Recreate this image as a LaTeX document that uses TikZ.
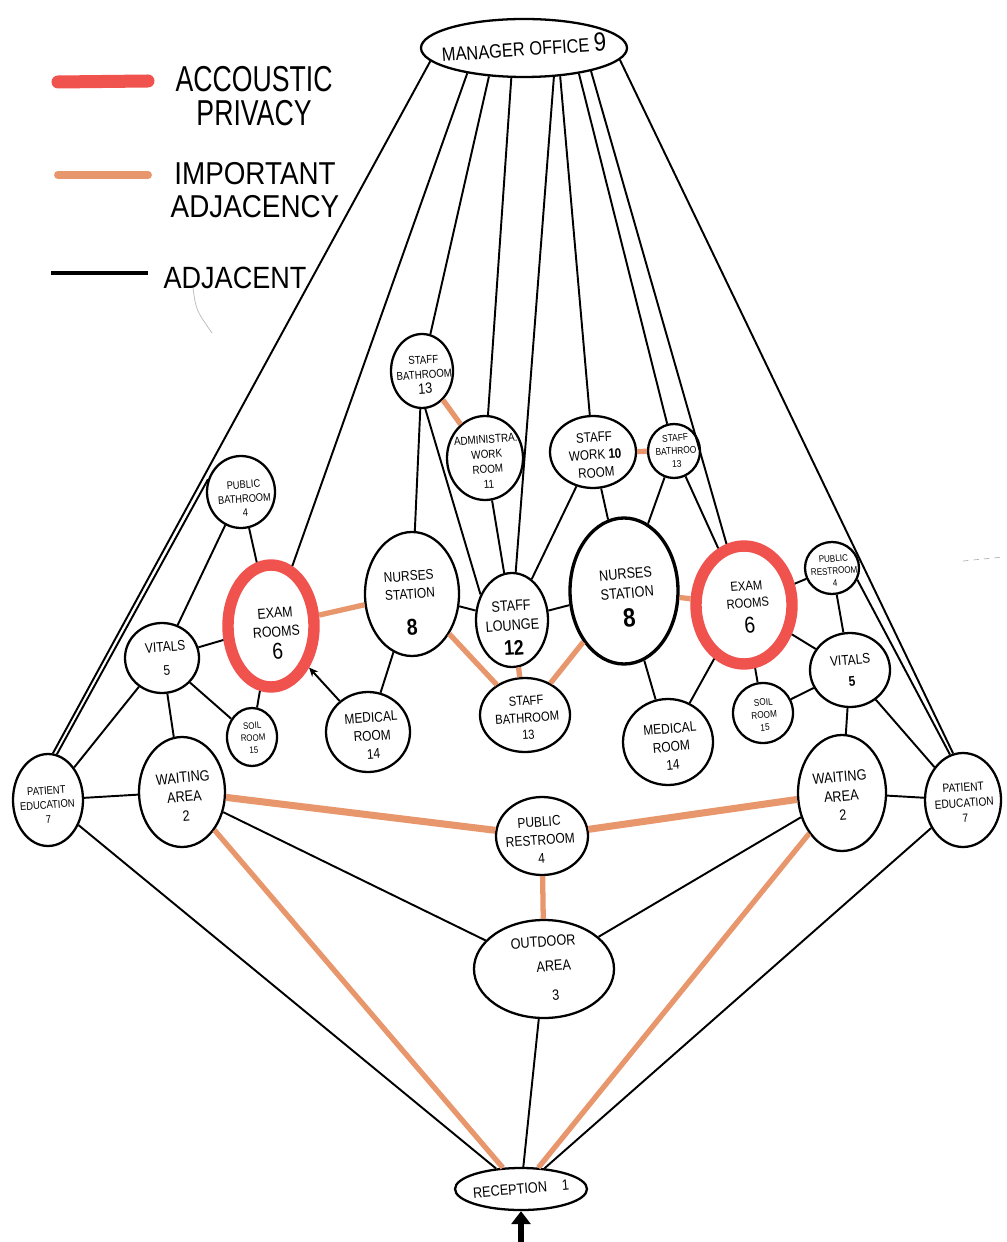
\documentclass[tikz,border=0pt]{standalone}
\usepackage{fontspec}
\setmainfont{Liberation Sans}
\newfontfamily\hand[FakeStretch=0.85]{Liberation Sans}
\newfontfamily\legA[FakeStretch=0.74]{Liberation Sans}
\newfontfamily\legB[FakeStretch=0.88]{Liberation Sans}
\newcommand\hf[1]{\hand\fontsize{#1}{\dimexpr #1pt*13/10\relax}\selectfont}
\usetikzlibrary{shapes.geometric,arrows.meta}
\definecolor{accred}{RGB}{240,82,78}
\definecolor{imporange}{RGB}{232,150,108}
\begin{document}
\begin{tikzpicture}[x=0.2mm,y=-0.2mm,
  room/.style 2 args={draw, ellipse, line width=1.3pt, inner sep=0pt,
     minimum width=#1*0.4mm, minimum height=#2*0.4mm},
  priv/.style 2 args={room={#1}{#2}, draw=accred, line width=6.5pt},
  lbl/.style={align=center, inner sep=0pt},
  txtsize/.style={font=\hf{#1}},
  adj/.style={line width=1.1pt, black},
  imp/.style={line width=3pt, imporange},
  impw/.style={line width=4pt, imporange},
]
\useasboundingbox[fill=white] (0,0) rectangle (1006,1242);

% ---------- legend ----------
\coordinate (lr1) at (58,82);  \coordinate (lr2) at (148,81);
\coordinate (lo1) at (58,175); \coordinate (lo2) at (148,175);
\coordinate (lb1) at (51,273); \coordinate (lb2) at (148,273);
\draw[accred, line width=7.4pt, line cap=round] (lr1) -- (lr2);
\draw[imporange, line width=4.5pt, line cap=round] (lo1) -- (lo2);
\draw[black, line width=2pt] (lb1) -- (lb2);
\node[lbl, font={\legA\fontsize{20.5}{19}\selectfont}] (legA) at (254,96) {ACCOUSTIC\\PRIVACY};
\node[lbl, font={\legB\fontsize{18}{19}\selectfont}] (legB) at (255,190) {IMPORTANT\\ADJACENCY};
\node[lbl, font={\legB\fontsize{17.5}{18}\selectfont}] (legC) at (235,278) {ADJACENT};
% stray marks
\coordinate (g1) at (193,288); \coordinate (g2) at (212,333);
\draw[gray!55, line width=0.4pt] (g1) .. controls (196,310) .. (g2);
\coordinate (d1) at (963,561); \coordinate (d2) at (1003,557);
\draw[gray!60, line width=0.4pt, dashed] (d1) -- (d2);

% ---------- rooms ----------
\node[room={103}{29}] (mgr) at (524,48) {};
\node[room={31}{37}] (sbL) at (422,371) {};
\node[room={38}{42}] (admin) at (485,458) {};
\node[room={43}{36}] (swr) at (593,452) {};
\node[room={26}{27}] (sbR) at (674,451) {};
\node[room={34}{36}] (pbL) at (241,492) {};
\node[priv={43}{61}] (examL) at (271,626) {};
\node[room={47}{62}] (nsL) at (412,594) {};
\node[room={36}{47}] (lounge) at (512,620) {};
\node[room={54}{73}, line width=1.9pt] (nsR) at (624,591) {};
\node[priv={48}{59}] (examR) at (744,605) {};
\node[room={27}{26}] (prR) at (832,568) {};
\node[room={37}{35}] (vitL) at (162,658) {};
\node[room={25}{29}] (soilL) at (252,737) {};
\node[room={42}{40}] (medL) at (368,732) {};
\node[room={45}{37}] (sbC) at (525,715) {};
\node[room={45}{43}] (medR) at (668,742) {};
\node[room={30}{30}] (soilR) at (763,713) {};
\node[room={40}{37}] (vitR) at (850,670) {};
\node[room={35}{46}] (pedL) at (48,800) {};
\node[room={43}{55}] (waitL) at (182,792) {};
\node[room={46}{39}] (prC) at (542,836) {};
\node[room={44}{58}] (waitR) at (842,793) {};
\node[room={38}{47}] (pedR) at (963,800) {};
\node[room={70}{49}] (outdoor) at (544,969) {};
\node[room={66}{21}] (rec) at (521,1189) {};

% ---------- labels ----------
\node[lbl, rotate=4, txtsize=11] (tmgr) at (524,47) {MANAGER OFFICE {\fontsize{15}{15}\selectfont 9}};
\node[lbl, rotate=4, txtsize=6.5, shift={(2,4)}] (tsbL) at (sbL) {STAFF\\BATHROOM\\{\fontsize{8.5}{8.5}\selectfont 13}};
\node[lbl, rotate=4, txtsize=6.6, shift={(2,4)}] (tadmin) at (admin) {ADMINISTRA.\\WORK\\ROOM\\11};
\node[lbl, rotate=4, txtsize=7.8, shift={(2,3)}] (tswr) at (swr) {STAFF\\WORK \textbf{10}\\ROOM};
\node[lbl, rotate=4, txtsize=5.6, shift={(2,0)}] (tsbR) at (sbR) {STAFF\\BATHROO\\13};
\node[lbl, rotate=4, txtsize=6.2, shift={(3,7)}] (tpbL) at (pbL) {PUBLIC\\BATHROOM\\4};
\node[lbl, rotate=4, txtsize=8.3, shift={(5,8)}] (texamL) at (examL) {EXAM\\ROOMS\\[2pt]{\fontsize{13}{13}\selectfont 6}};
\node[lbl, rotate=4, txtsize=8, shift={(-2,9)}] (tnsL) at (nsL) {NURSES\\STATION\\[10pt]{\fontsize{13}{13}\selectfont\bfseries 8}};
\node[lbl, rotate=4, txtsize=8.5, shift={(0,8)}] (tlounge) at (lounge) {STAFF\\LOUNGE\\[3pt]{\fontsize{12}{12}\selectfont\bfseries 12}};
\node[lbl, rotate=5, txtsize=8.5, shift={(3,7)}] (tnsR) at (nsR) {NURSES\\STATION\\[5pt]{\fontsize{15}{15}\selectfont\bfseries 8}};
\node[lbl, rotate=5, txtsize=7.5, shift={(4,3)}] (texamR) at (examR) {EXAM\\ROOMS\\[5pt]{\fontsize{13}{13}\selectfont 6}};
\node[lbl, rotate=4, txtsize=5.4, shift={(2,3)}] (tprR) at (prR) {PUBLIC\\RESTROOM\\4};
\node[lbl, rotate=4, txtsize=8, shift={(4,1)}] (tvitL) at (vitL) {VITALS\\[3pt]5};
\node[lbl, rotate=5, txtsize=8, shift={(1,1)}] (tvitR) at (vitR) {VITALS\\[2pt]{\bfseries 5}};
\node[lbl, rotate=4, txtsize=5.3, shift={(1,1)}] (tsoilL) at (soilL) {SOIL\\ROOM\\15};
\node[lbl, rotate=4, txtsize=5.5, shift={(1,2)}] (tsoilR) at (soilR) {SOIL\\ROOM\\15};
\node[lbl, rotate=4, txtsize=8, shift={(4,4)}] (tmedL) at (medL) {MEDICAL\\ROOM\\14};
\node[lbl, rotate=5, txtsize=8, shift={(3,5)}] (tmedR) at (medR) {MEDICAL\\ROOM\\14};
\node[lbl, rotate=4, txtsize=7.5, shift={(2,3)}] (tsbC) at (sbC) {STAFF\\BATHROOM\\13};
\node[lbl, rotate=4, txtsize=6.3, shift={(-1,5)}] (tpedL) at (pedL) {PATIENT\\EDUCATION\\7};
\node[lbl, rotate=5, txtsize=8.5, shift={(2,5)}] (twaitL) at (waitL) {WAITING\\AREA\\2};
\node[lbl, rotate=5, txtsize=8.5, shift={(-1,3)}] (twaitR) at (waitR) {WAITING\\AREA\\2};
\node[lbl, rotate=4, txtsize=6.8, shift={(1,3)}] (tpedR) at (pedR) {PATIENT\\EDUCATION\\7};
\node[lbl, rotate=4, txtsize=8, shift={(-2,4)}] (tprC) at (prC) {PUBLIC\\RESTROOM\\4};
\node[lbl, rotate=4, txtsize=8.5, shift={(1,0)}] (toutdoor) at (outdoor) {OUTDOOR\\[3pt]\hspace*{1.2em}AREA\\[6pt]\hspace*{1.2em}3};
\node[lbl, rotate=5, txtsize=8.5, shift={(0,0)}] (trec) at (rec) {RECEPTION\quad 1};

% ---------- connectors from the manager office ----------
\draw[adj] (mgr.188) -- (pedL.84);
\draw[adj] (mgr.204) -- (examL);
\draw[adj] (mgr.219) -- (sbL);
\draw[adj] (mgr.247) -- (admin);
\draw[adj] (mgr.316) -- (lounge);
\draw[adj] (mgr.322) -- (swr);
\draw[adj] (mgr.335) -- (sbR);
\draw[adj] (mgr.341) -- (examR);
\draw[adj] (mgr.353) -- (pedR.102);

% ---------- adjacent (black) ----------
\draw[adj] (sbL) -- (nsL);
\draw[adj] (sbL.275) -- (lounge.141);
\draw[adj] (admin) -- (lounge);
\draw[adj] (swr) -- (lounge);
\draw[adj] (swr) -- (nsR);
\draw[adj] (sbR) -- (nsR);
\draw[adj] (sbR) -- (examR);
\draw[adj] (pbL) -- (examL);
\draw[adj] (pbL) -- (vitL);
\draw[adj] (pbL.159) -- (pedL.79);
\draw[adj] (examL) -- (vitL);
\draw[adj] (examL) -- (soilL);
\draw[adj, -{Stealth[length=1.8mm, width=1.6mm]}] (medL) -- (examL);
\draw[adj] (medL) -- (nsL);
\draw[adj] (nsL) -- (lounge);
\draw[adj] (lounge) -- (nsR);
\draw[adj] (nsR) -- (medR);
\draw[adj] (examR) -- (prR);
\draw[adj] (examR) -- (vitR);
\draw[adj] (examR) -- (soilR);
\draw[adj] (examR) -- (medR);
\draw[adj] (prR) -- (vitR);
\draw[adj] (prR.335) -- (pedR.106);
\draw[adj] (vitR) -- (soilR);
\draw[adj] (vitR) -- (waitR);
\draw[adj] (vitR) -- (pedR);
\draw[adj] (vitL) -- (soilL);
\draw[adj] (vitL) -- (waitL);
\draw[adj] (vitL) -- (pedL);
\draw[adj] (pedL) -- (waitL);
\draw[adj] (pedL) -- (rec);
\draw[adj] (waitL) -- (outdoor);
\draw[adj] (waitR) -- (outdoor);
\draw[adj] (waitR) -- (pedR);
\draw[adj] (pedR) -- (rec);
\draw[adj] (outdoor) -- (rec);

% ---------- important adjacency (orange) ----------
\draw[imp] (sbL) -- (admin);
\draw[imp] (swr) -- (sbR);
\draw[imp] (examL) -- (nsL);
\draw[imp] (nsL) -- (sbC);
\draw[imp] (lounge) -- (sbC);
\draw[imp] (nsR) -- (sbC);
\draw[imp] (nsR) -- (examR);
\draw[impw] (waitL) -- (prC);
\draw[impw] (waitR) -- (prC);
\draw[imp] (prC) -- (outdoor);
\draw[imp] (waitL) -- (rec);
\draw[imp] (waitR) -- (rec);

% ---------- entrance arrow ----------
\coordinate (entry) at (521,1242);
\draw[line width=3.4pt, -{Triangle[length=2.6mm, width=3.8mm]}] (entry) -- (rec.south);
\end{tikzpicture}
\end{document}
